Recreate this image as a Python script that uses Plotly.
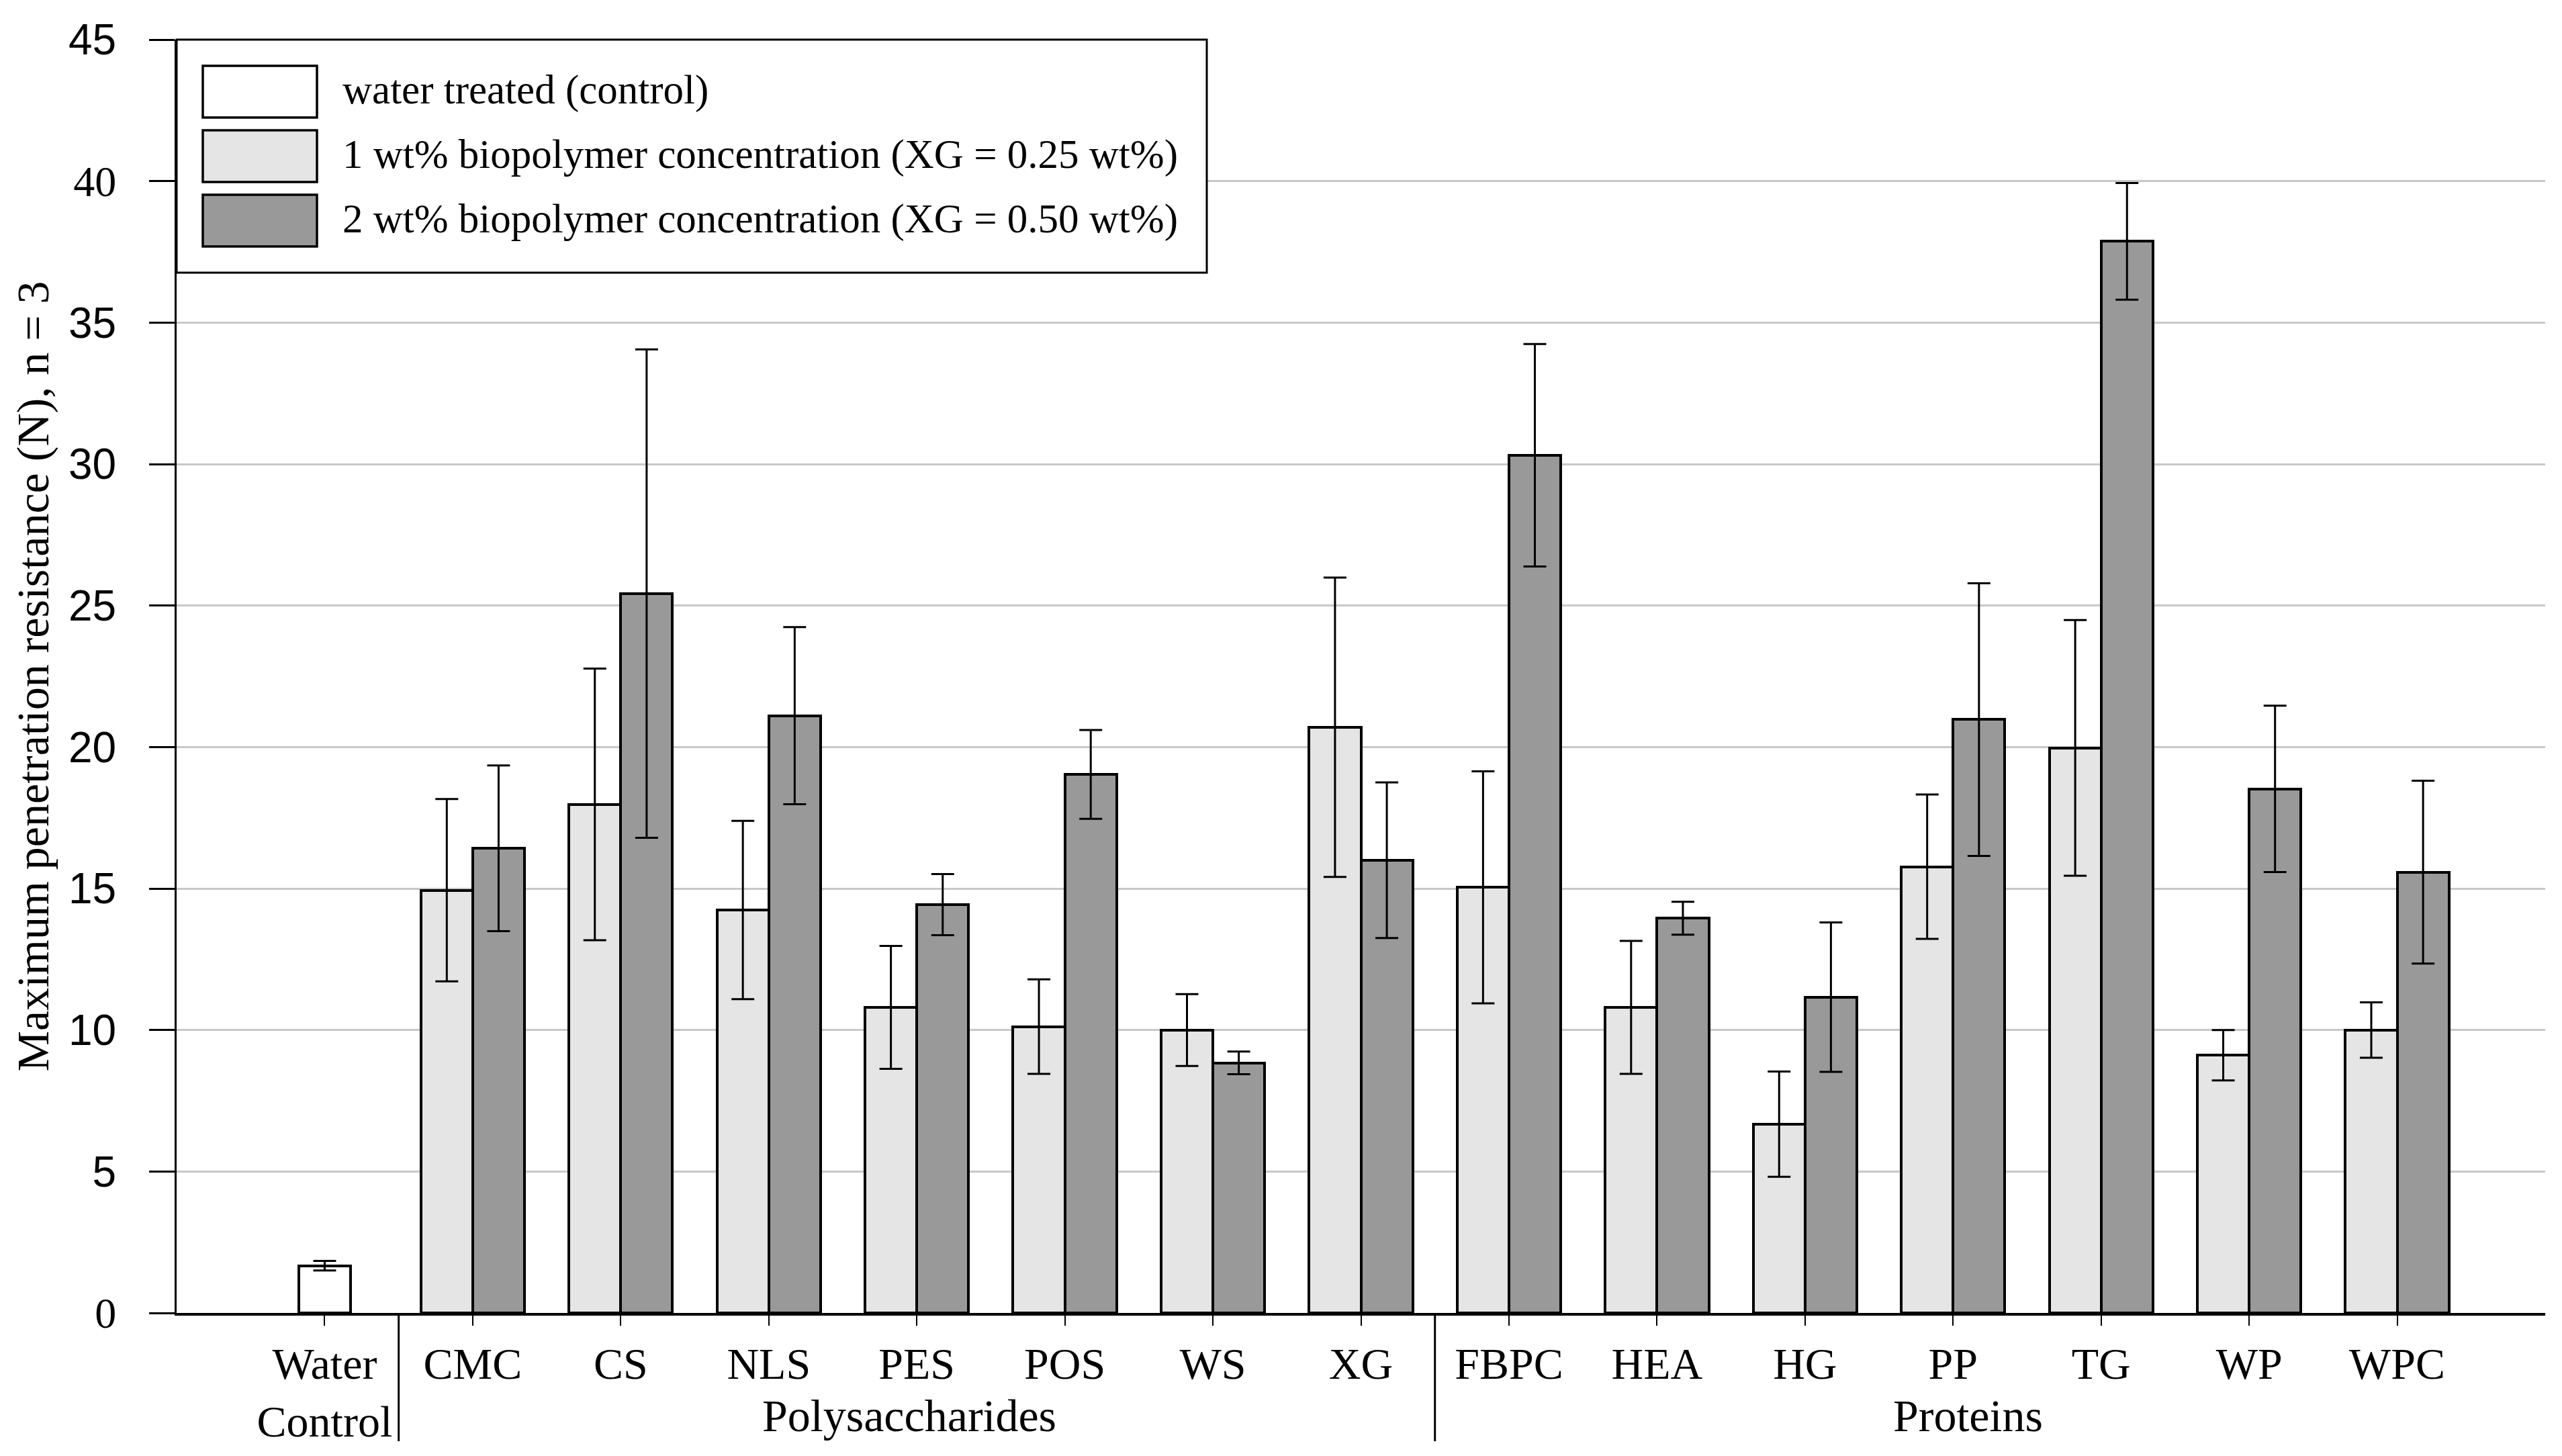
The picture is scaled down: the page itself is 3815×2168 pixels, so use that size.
import plotly.graph_objects as go

# ---------------- data ----------------
categories = ["Water<br>Control", "CMC", "CS", "NLS", "PES", "POS", "WS", "XG",
              "FBPC", "HEA", "HG", "PP", "TG", "WP", "WPC"]
treated = ["CMC", "CS", "NLS", "PES", "POS", "WS", "XG",
           "FBPC", "HEA", "HG", "PP", "TG", "WP", "WPC"]
water_value = [1.67]
water_err = [0.17]
conc1_values = [14.94, 17.97, 14.24, 10.80, 10.12, 10.00, 20.70,
                15.04, 10.80, 6.67, 15.77, 19.97, 9.11, 10.00]
conc1_err = [3.22, 4.80, 3.15, 2.17, 1.67, 1.27, 5.29,
             4.10, 2.35, 1.86, 2.55, 4.52, 0.89, 0.98]
conc2_values = [16.42, 25.42, 21.11, 14.43, 19.03, 8.84, 16.00,
                30.31, 13.95, 11.16, 20.97, 37.87, 18.52, 15.58]
conc2_err = [2.93, 8.63, 3.13, 1.08, 1.57, 0.40, 2.75,
             3.93, 0.58, 2.64, 4.82, 2.06, 2.94, 3.23]
series_names = ["water treated (control)",
                "1 wt% biopolymer concentration (XG = 0.25 wt%)",
                "2 wt% biopolymer concentration (XG = 0.50 wt%)"]
group_labels = ["Polysaccharides", "Proteins"]
y_ticks = [0, 5, 10, 15, 20, 25, 30, 35, 40, 45]

# ---------------- styling ----------------
W, H = 3815, 2168
L, R, T, B = 255, 33, 51, 221
PW, PH = W - L - R, H - T - B
SERIF = "Liberation Serif, Times New Roman, serif"
SANS = "Liberation Sans, Arial, sans-serif"
C_WATER, C_LIGHT, C_DARK = "#ffffff", "#e5e5e5", "#999999"
BW = 0.35  # bar width in category units

pos = {c: i for i, c in enumerate(categories)}
idx_treated = [pos[c] for c in treated]

fig = go.Figure()
err_style = dict(type="data", color="black", thickness=3, width=17, visible=True)
bar_line = dict(color="black", width=4)

fig.add_trace(go.Bar(x=[pos[categories[0]]], y=water_value, width=BW,
                     marker=dict(color=C_WATER, line=bar_line),
                     error_y=dict(array=water_err, **err_style),
                     name=series_names[0], showlegend=False))
fig.add_trace(go.Bar(x=[i - BW / 2 for i in idx_treated], y=conc1_values, width=BW,
                     marker=dict(color=C_LIGHT, line=bar_line),
                     error_y=dict(array=conc1_err, **err_style),
                     name=series_names[1], showlegend=False))
fig.add_trace(go.Bar(x=[i + BW / 2 for i in idx_treated], y=conc2_values, width=BW,
                     marker=dict(color=C_DARK, line=bar_line),
                     error_y=dict(array=conc2_err, **err_style),
                     name=series_names[2], showlegend=False))

serif_ticks = {0, 40}
ytext = [f'<span style="font-family:Liberation Serif">{v}</span>' if v in serif_ticks else str(v)
         for v in y_ticks]

fig.update_layout(
    width=W, height=H,
    margin=dict(l=L, r=R, t=T, b=B, autoexpand=False),
    paper_bgcolor="white", plot_bgcolor="white",
    barmode="overlay", bargap=0,
    font=dict(family=SERIF, color="black", size=60),
    xaxis=dict(range=[-1, 15.0], tickmode="array",
               tickvals=list(range(len(categories))), ticktext=categories,
               showgrid=False, zeroline=False, showline=True, linecolor="black",
               linewidth=4, ticks="outside", ticklen=15, tickwidth=2, tickcolor="black",
               tickfont=dict(family=SERIF, size=66, color="black"),
               ticklabelstandoff=0, automargin=False),
    yaxis=dict(range=[0, 45], tickmode="array", tickvals=y_ticks, ticktext=ytext,
               showgrid=True, gridcolor="#c8c8c8", gridwidth=3, zeroline=False,
               showline=True, linecolor="black", linewidth=3,
               ticks="outside", ticklen=38, tickwidth=3, tickcolor="black",
               tickfont=dict(family=SANS, size=64, color="black"),
               ticklabelstandoff=36, automargin=False,
               title=dict(text="Maximum penetration resistance (N), n = 3",
                          font=dict(family=SERIF, size=68, color="black"),
                          standoff=8)),
)

# group separators below the axis
sep_bottom = -(2138 - (H - B)) / PH
for xs in [0.5, 7.5]:
    fig.add_shape(type="line", xref="x", yref="paper", x0=xs, x1=xs, y0=0, y1=sep_bottom,
                  line=dict(color="black", width=3), layer="above")

# group labels
grp_y = -(2140 - (H - B)) / PH
for lab, xc in zip(group_labels, [3.95, 11.1]):
    fig.add_annotation(text=lab, x=xc, xref="x", y=grp_y, yref="paper",
                       yanchor="bottom", xanchor="center", showarrow=False,
                       font=dict(family=SERIF, size=68, color="black"))


# custom legend (pixel layout -> paper)
def px_x(p):
    return (p - L) / PW


def px_y(p):
    return (H - B - p) / PH


fig.add_shape(type="rect", xref="paper", yref="paper",
              x0=px_x(255), x1=px_x(1789), y0=px_y(398), y1=px_y(51),
              fillcolor="white", line=dict(color="black", width=3), layer="above")
swatch_tops = [90, 186, 282]
swatch_colors = [C_WATER, C_LIGHT, C_DARK]
for top, col, name in zip(swatch_tops, swatch_colors, series_names):
    fig.add_shape(type="rect", xref="paper", yref="paper",
                  x0=px_x(294), x1=px_x(464), y0=px_y(top + 77), y1=px_y(top),
                  fillcolor=col, line=dict(color="black", width=3.5), layer="above")
    fig.add_annotation(text=name, xref="paper", yref="paper",
                       x=px_x(500), y=px_y(top + 36), xanchor="left", yanchor="middle",
                       showarrow=False, font=dict(family=SERIF, size=61, color="black"))

fig.write_html("out.html")
